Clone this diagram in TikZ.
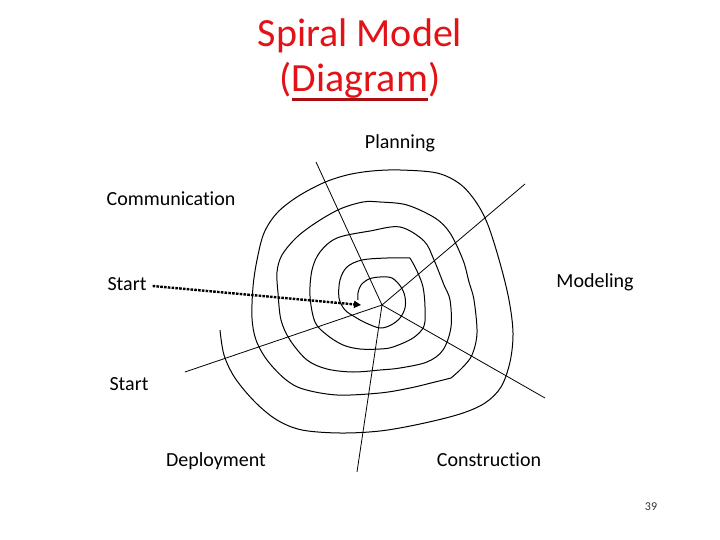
\documentclass[tikz,border=0pt]{standalone}
\usepackage{fontspec}
\setmainfont{Carlito}[Ligatures=NoCommon]
\usepackage{xcolor}
\usepackage{tikz}
\usetikzlibrary{arrows.meta,calc,positioning}
\definecolor{titlered}{RGB}{226,18,22}
\newcommand{\redul}[1]{\setbox0\hbox{#1}\rlap{\color{titlered!75!black}\rule[-9pt]{\wd0}{2.6pt}}\box0}

\begin{document}
\begin{tikzpicture}[x=1pt,y=-1pt,
  lab/.style={anchor=base,inner sep=2pt,font=\fontsize{20}{24}\selectfont},
  ttl/.style={anchor=base,inner sep=0pt,text=titlered,font=\fontsize{40}{46}\selectfont},
  spiral/.style={line width=1pt,line join=round},
  spoke/.style={line width=0.8pt}]
  \useasboundingbox (0,0) rectangle (720,540);
  % title
  \node[ttl] (title1) at (360,47) {Spiral Model};
  \node[ttl] (title2) at (360,92) {(\redul{Diagram})};
  % labels round the spiral
  \node[lab] (plan)   at (400,149) {Planning};
  \node[lab] (comm)   at (171,206) {Communication};
  \node[lab] (model)  at (595,287) {Modeling};
  \node[lab] (start1) at (127,290) {Start};
  \node[lab] (start2) at (129,390) {Start};
  \node[lab] (deploy) at (216,466) {Deployment};
  \node[lab] (constr) at (489,466) {Construction};
  \node[anchor=base,font=\fontsize{12}{14}\selectfont,text=black!80] (page) at (651,510) {39};
  % spokes from the hub
  \coordinate (hub) at (382,305);
  \foreach \nm/\px/\py in {n/316/162,ne/525/184,sw/185/372,se/545/398,s/357/472}{
    \coordinate (\nm) at (\px,\py);
    \draw[spoke] (hub) -- (\nm);
  }
  % the spiral, outside in
  \draw[spiral] plot[smooth,tension=0.55] coordinates {(220,330) (224,355) (235,378) (255,402) (277,420)
    (302,430) (340,433) (380,431) (420,424) (460,414) (485,403) (501,387) (510,362) (513,333) (509,300)
    (500,263) (488,225) (476,202) (460,184) (437,173) (400,170) (372,171) (347,175) (323,183) (297,197)
    (277,213) (264,233) (257,260) (253,287) (252,318) (256,340) (267,360) (285,379) (303,389) (337,395)
    (380,393) (410,388) (435,382) (451,378)};
  \draw[spiral] plot[smooth,tension=0.55] coordinates {(451,378) (462,368) (472,355) (477,333) (474,300)
    (469,282) (463,260) (450,233) (435,218) (407,205) (380,202) (363,202) (340,209) (317,222) (297,237)
    (282,255) (277,272) (278,293) (281,320) (290,340) (307,360) (327,369) (353,372) (380,370) (400,368)
    (427,362) (443,350) (451,327) (450,300) (444,285) (434,260) (424,241) (400,227) (370,231) (337,238)
    (320,252) (312,270) (310,296) (315,322) (327,335) (343,345) (360,349) (380,349) (393,347) (413,338)
    (424,326) (425,307) (423,287) (417,271) (410,258)};
  \draw[spiral] plot[smooth,tension=0.55] coordinates {(410,258) (387,258) (362,260) (347,267) (340,280)
    (339,298) (345,310) (355,317) (366,323) (380,328) (391,325) (400,318) (405,308) (405,297) (401,287)
    (392,278) (380,277) (369,279) (361,285) (358,293) (358,300)};
  % start arrow
  \coordinate (tip) at (361,305);
  \draw[line width=2.4pt,dash pattern=on 2.6pt off 1.2pt,-{Triangle[length=7pt,width=7pt]}]
    ($(start1.base east)+(4,-4)$) -- (tip);
\end{tikzpicture}
\end{document}
